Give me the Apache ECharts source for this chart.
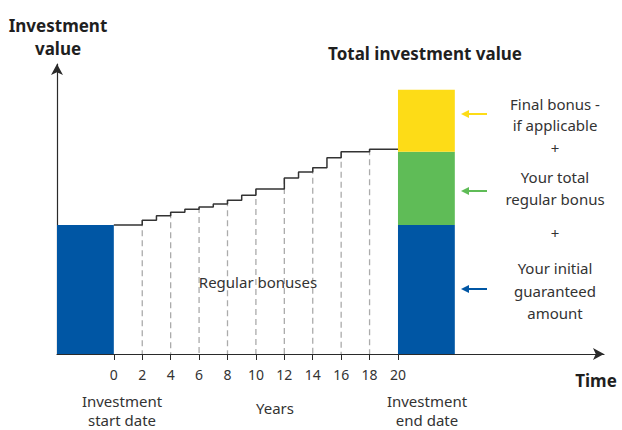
<!DOCTYPE html>
<html>
<head>
<meta charset="utf-8">
<script src="https://cdn.jsdelivr.net/npm/echarts@6/dist/echarts.min.js"></script>
<style>
  html, body { margin: 0; padding: 0; background: #fff; }
  #chart { width: 622px; height: 430px; }
</style>
</head>
<body>
<div id="chart"></div>
<script>
// --- data ---
var tickYears = [0, 2, 4, 6, 8, 10, 12, 14, 16, 18, 20];
var dashedYears = [2, 4, 6, 8, 10, 12, 14, 16, 18];

// regular bonus step line: year where each level starts, and its value
var stepYears = [0, 2, 3, 4, 5, 6, 7, 8, 9, 10, 12, 13, 14, 15, 16, 18, 20];
var stepValues = [100, 103.7, 107.3, 110, 112.3, 114, 116.4, 119.3, 123.1, 128, 136.5, 141.2, 144.5, 152.3, 157, 158.8, 158.8];

// blocks: start/end year, bottom/top value, kind
var blockStart = [-4, 20, 20, 20];
var blockEnd = [0, 24, 24, 24];
var blockBase = [0, 0, 100, 157];
var blockTop = [100, 100, 157, 205];
var blockKind = ['guaranteed', 'guaranteed', 'regular', 'final'];

var kindColor = { guaranteed: '#0056a4', regular: '#5fbc57', final: '#fddc17' };
var ink = '#333333';
var dark = '#1f1f1f';

(function() {
  var chart = echarts.init(document.getElementById('chart'), null, { renderer: 'svg' });

  var stepData = stepYears.map(function(x, i) { return [x, stepValues[i]]; });
  var blockData = blockStart.map(function(x, i) {
    return [x, blockEnd[i], blockBase[i], blockTop[i], i];
  });
  // dashed guide height = level of the step line at that year
  function levelAt(year) {
    var v = stepValues[0];
    for (var i = 0; i < stepYears.length; i++) {
      if (stepYears[i] <= year) v = stepValues[i];
    }
    return v;
  }
  var dashedData = dashedYears.map(function(y) { return [y, levelAt(y)]; });

  var font = '"Noto Sans", sans-serif';
  function txt(text, x, y, size, bold) {
    return {
      type: 'text', x: x, y: y, z: 10,
      style: {
        text: text, fill: bold ? dark : ink,
        font: (bold ? 'bold ' : '') + size + 'px ' + font,
        textAlign: 'center', textVerticalAlign: 'middle'
      }
    };
  }
  function arrow(y, color) {
    return {
      type: 'group', z: 10,
      children: [
        { type: 'line', shape: { x1: 467, y1: y, x2: 487, y2: y }, style: { stroke: color, lineWidth: 2 } },
        { type: 'polygon', shape: { points: [[461, y], [469, y - 4], [469, y + 4]] }, style: { fill: color } }
      ]
    };
  }

  chart.setOption({
    animation: false,
    grid: { left: 57, right: 18, top: 64, bottom: 76 },
    xAxis: {
      type: 'value',
      min: -4,
      max: 34.5,
      interval: 2,
      splitLine: { show: false },
      axisLine: {
        onZero: false,
        lineStyle: { color: '#2a2a2a', width: 1.2 },
        symbol: ['none', 'arrow'],
        symbolSize: [9, 11]
      },
      axisTick: { customValues: tickYears, length: 6, lineStyle: { color: '#2a2a2a' } },
      axisLabel: {
        customValues: tickYears,
        color: ink, fontSize: 14, fontFamily: font, margin: 13
      }
    },
    yAxis: {
      type: 'value',
      min: 0,
      max: 225,
      splitLine: { show: false },
      axisTick: { show: false },
      axisLabel: { show: false },
      axisLine: {
        show: true,
        onZero: false,
        lineStyle: { color: '#2a2a2a', width: 1.2 },
        symbol: ['none', 'arrow'],
        symbolSize: [9, 11]
      }
    },
    series: [
      {
        type: 'custom',
        data: dashedData,
        encode: { x: 0, y: 1 },
        renderItem: function(params, api) {
          var top = api.coord([api.value(0), api.value(1)]);
          var bot = api.coord([api.value(0), 0]);
          return {
            type: 'line',
            shape: { x1: top[0], y1: top[1], x2: bot[0], y2: bot[1] },
            style: { stroke: '#ababab', lineWidth: 1.3, lineDash: [6, 4] }
          };
        }
      },
      {
        type: 'custom',
        data: blockData,
        encode: { x: [0, 1], y: [2, 3] },
        renderItem: function(params, api) {
          var p0 = api.coord([api.value(0), api.value(3)]);
          var p1 = api.coord([api.value(1), api.value(2)]);
          return {
            type: 'rect',
            shape: { x: p0[0], y: p0[1], width: p1[0] - p0[0], height: p1[1] - p0[1] },
            style: { fill: kindColor[blockKind[api.value(4)]] }
          };
        }
      },
      {
        type: 'line',
        step: 'end',
        data: stepData,
        symbol: 'none',
        lineStyle: { color: '#333', width: 1.5 },
        z: 5
      }
    ],
    graphic: [
      txt('Investment', 58, 25, 17, true),
      txt('value', 58, 48, 17, true),
      txt('Total investment value', 425, 53, 17, true),
      txt('Final bonus -', 555, 104, 15),
      txt('if applicable', 555, 125, 15),
      txt('+', 555, 148, 15),
      txt('Your total', 555, 177, 15),
      txt('regular bonus', 555, 199, 15),
      txt('+', 555, 233, 15),
      txt('Your initial', 555, 268, 15),
      txt('guaranteed', 555, 291, 15),
      txt('amount', 555, 313, 15),
      txt('Regular bonuses', 258, 282, 15),
      txt('Investment', 122, 401, 15),
      txt('start date', 122, 420, 15),
      txt('Years', 275, 408, 15),
      txt('Investment', 427, 401, 15),
      txt('end date', 427, 420, 15),
      txt('Time', 596, 380, 17, true),
      arrow(114, kindColor.final),
      arrow(191, kindColor.regular),
      arrow(289, kindColor.guaranteed)
    ]
  });
  window.addEventListener('resize', function() { chart.resize(); });
})();
</script>
</body>
</html>
